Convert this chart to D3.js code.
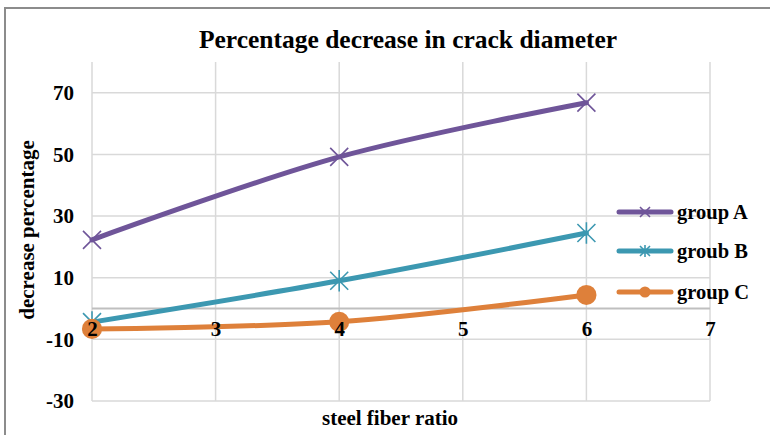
<!DOCTYPE html>
<html>
<head>
<meta charset="utf-8">
<script src="https://cdn.jsdelivr.net/npm/d3@7"></script>
<style>
  body { margin: 0; background: #fff; }
  text { font-family: "Liberation Serif", "Times New Roman", serif; font-weight: bold; fill: #000; }
</style>
</head>
<body>
<svg id="chart" width="770" height="435"></svg>
<script>
// data
const fiberRatio = [2, 4, 6];
const groupA = [22.3, 49.2, 66.8];
const groubB = [-4.4, 9, 24.5];
const groupC = [-6.6, -4.3, 4.4];
const seriesNames = ['group A', 'groub B', 'group C'];
const xTicks = [2, 3, 4, 5, 6, 7];
const yTicks = [70, 50, 30, 10, -10, -30];

const colors = ['#6f5599', '#3c98b1', '#de803a'];
const markers = ['x', 'star', 'circle'];

const svg = d3.select('svg#chart');

// chart border (only top/left visible in the frame)
svg.append('rect')
  .attr('x', 5).attr('y', 8).attr('width', 800).attr('height', 500)
  .attr('fill', 'none').attr('stroke', '#8c8c8c').attr('stroke-width', 2);

const x = d3.scaleLinear().domain([2, 7]).range([92, 710]);
const y = d3.scaleLinear().domain([-30, 80]).range([401, 62]);

// gridlines
const grid = svg.append('g');
grid.selectAll('line.h').data(yTicks).enter().append('line')
  .attr('x1', x(2)).attr('x2', x(7))
  .attr('y1', d => y(d)).attr('y2', d => y(d))
  .attr('stroke', '#d9d9d9').attr('stroke-width', 1.5);
grid.selectAll('line.v').data(xTicks).enter().append('line')
  .attr('x1', d => x(d)).attr('x2', d => x(d))
  .attr('y1', y(80)).attr('y2', y(-30))
  .attr('stroke', '#d9d9d9').attr('stroke-width', 1.5);

// zero line
svg.append('line').attr('x1', x(2)).attr('x2', x(7)).attr('y1', y(0)).attr('y2', y(0))
  .attr('stroke', '#bfbfbf').attr('stroke-width', 2);

// y axis labels
const yAxis = d3.axisLeft(y).tickValues(yTicks).tickSize(0).tickPadding(18).tickFormat(d => String(d));
const gy = svg.append('g').attr('transform', `translate(${x(2)},0)`).call(yAxis);
gy.select('.domain').remove();
gy.selectAll('text').attr('font-size', 21).style('font-family', '"Liberation Serif", serif').style('font-weight', 'bold');

// lines
const line = d3.line().x(d => x(d[0])).y(d => y(d[1])).curve(d3.curveCatmullRom.alpha(0.5));
const allSeries = [groupA, groubB, groupC];

function drawMarker(g, type, cx, cy, s, color) {
  if (type === 'circle') {
    g.append('circle').attr('cx', cx).attr('cy', cy).attr('r', s * 0.56).attr('fill', color);
  } else {
    const h = s / 2;
    g.append('path')
      .attr('d', `M${cx - h},${cy - h}L${cx + h},${cy + h}M${cx - h},${cy + h}L${cx + h},${cy - h}` +
        (type === 'star' ? `M${cx},${cy - h * 1.2}L${cx},${cy + h * 1.2}` : ''))
      .attr('stroke', color).attr('stroke-width', 1.6).attr('fill', 'none');
  }
}

allSeries.forEach((vals, i) => {
  const pts = fiberRatio.map((r, j) => [r, vals[j]]);
  const g = svg.append('g');
  g.append('path').datum(pts).attr('d', line)
    .attr('fill', 'none').attr('stroke', colors[i]).attr('stroke-width', 5).attr('stroke-linecap', 'round');
  pts.forEach(p => drawMarker(g, markers[i], x(p[0]), y(p[1]), 18, colors[i]));
});

// x axis labels on top of the lines
const xAxis = d3.axisBottom(x).tickValues(xTicks).tickSize(0).tickPadding(0).tickFormat(d => String(d));
const gx = svg.append('g').attr('transform', `translate(0,${y(0)})`).call(xAxis);
gx.select('.domain').remove();
gx.selectAll('text').attr('font-size', 21).attr('dy', '1.32em').style('font-family', '"Liberation Serif", serif').style('font-weight', 'bold');

// legend
const legend = svg.append('g');
const legendY = [212, 251, 292];
seriesNames.forEach((name, i) => {
  legend.append('line')
    .attr('x1', 619).attr('x2', 671).attr('y1', legendY[i]).attr('y2', legendY[i])
    .attr('stroke', colors[i]).attr('stroke-width', 5).attr('stroke-linecap', 'round');
  drawMarker(legend, markers[i], 645, legendY[i], 10, colors[i]);
  legend.append('text').attr('x', 677).attr('y', legendY[i]).attr('dy', '0.35em')
    .attr('font-size', 20.5).text(name);
});

// title and axis titles
svg.append('text').attr('x', 408).attr('y', 48).attr('text-anchor', 'middle')
  .attr('font-size', 25.5).text('Percentage decrease in crack diameter');
svg.append('text').attr('x', 390).attr('y', 425).attr('text-anchor', 'middle')
  .attr('font-size', 21).text('steel fiber ratio');
svg.append('text').attr('transform', 'translate(34,230) rotate(-90)').attr('text-anchor', 'middle')
  .attr('font-size', 21).text('decrease percentage');
</script>
</body>
</html>
